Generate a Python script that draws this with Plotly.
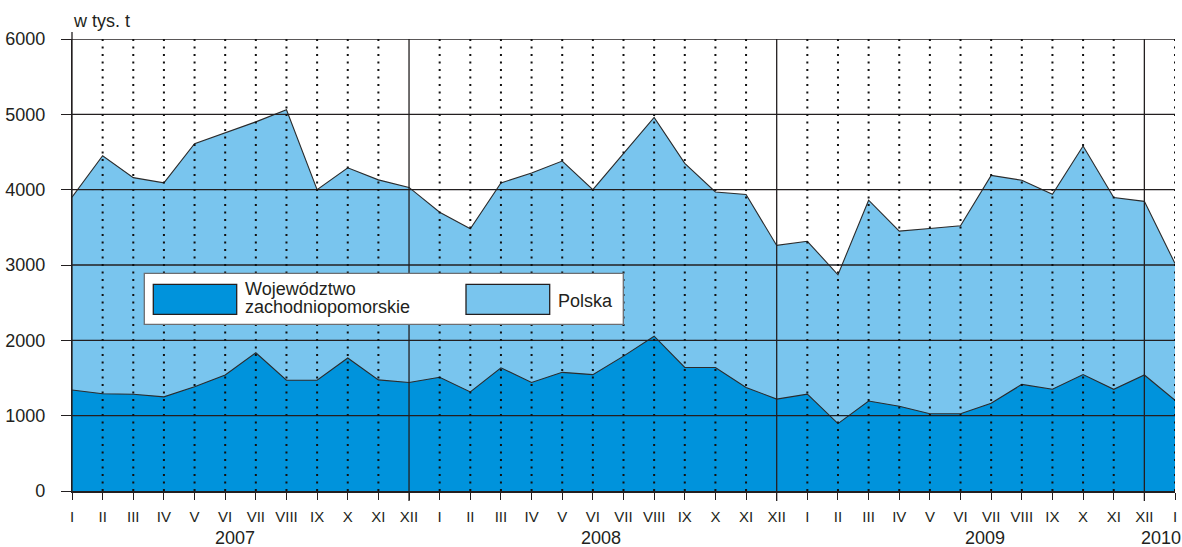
import plotly.graph_objects as go

# ---------------- data ----------------
months = ["I", "II", "III", "IV", "V", "VI", "VII", "VIII", "IX", "X", "XI", "XII"] * 3 + ["I"]
years = ["2007", "2008", "2009", "2010"]
year_centers = [5.32, 17.25, 29.8, 35.55]
december_idx = [11, 23, 35]

polska = [3900, 4450, 4160, 4090, 4610, 4750, 4900, 5060, 4000, 4290, 4130, 4030,
          3700, 3480, 4090, 4220, 4380, 4000, 4480, 4960, 4350, 3970, 3935, 3260,
          3315, 2870, 3860, 3450, 3485, 3520, 4190, 4125, 3940, 4580, 3895, 3845,
          3020]

zachodniopomorskie = [1340, 1290, 1285, 1250, 1385, 1540, 1835, 1470, 1470, 1765, 1475, 1440,
                      1510, 1315, 1635, 1440, 1575, 1545, 1790, 2055, 1640, 1640, 1375, 1220,
                      1285, 895, 1195, 1125, 1025, 1025, 1165, 1415, 1350, 1545, 1350, 1540,
                      1205]

y_ticks = [0, 1000, 2000, 3000, 4000, 5000, 6000]

# ---------------- style ----------------
W, H = 1182, 547
ML, MR, MT, MB = 72, 7, 39, 56
PW, PH = W - ML - MR, H - MT - MB
LIGHT = "#79c5ee"
DARK = "#0093dc"
INK = "#231f20"
FONT = "Liberation Sans, Arial, Helvetica, sans-serif"


def px(xr):
    """window pixel x -> paper x"""
    return (xr - ML) / PW


def py(yr):
    """window pixel y -> paper y"""
    return (MT + PH - yr) / PH


x = list(range(len(months)))

fig = go.Figure()
fig.add_trace(go.Scatter(x=x, y=polska, mode="lines", fill="tozeroy",
                         fillcolor=LIGHT, line=dict(color="#2b2b2b", width=1.1),
                         name="Polska", showlegend=False, hoverinfo="skip"))
fig.add_trace(go.Scatter(x=x, y=zachodniopomorskie, mode="lines", fill="tozeroy",
                         fillcolor=DARK, line=dict(color="#2b2b2b", width=1.1),
                         name="Województwo zachodniopomorskie", showlegend=False,
                         hoverinfo="skip"))

shapes = []
# horizontal grid lines above the areas
for v in y_ticks[1:]:
    shapes.append(dict(type="line", xref="paper", yref="y", x0=0, x1=1, y0=v, y1=v,
                       line=dict(color=INK, width=1.3), layer="above"))
# vertical lines: dotted for months, solid for December
for i in x[1:]:
    if i in december_idx:
        shapes.append(dict(type="line", xref="x", yref="y", x0=i, x1=i, y0=0, y1=6000,
                           line=dict(color=INK, width=1.3), layer="above"))
        shapes.append(dict(type="line", xref="x", yref="paper", x0=i, x1=i, y0=0,
                           y1=-10 / PH, line=dict(color=INK, width=1.3), layer="above"))
    else:
        shapes.append(dict(type="line", xref="x", yref="y", x0=i, x1=i, y0=0, y1=6000,
                           line=dict(color="#111111", width=2, dash="2px,5.5px"),
                           layer="above"))
# y-axis extension above the top grid line
shapes.append(dict(type="line", xref="paper", yref="paper", x0=0, x1=0, y0=0,
                   y1=1 + 7 / PH, line=dict(color=INK, width=1.3), layer="above"))

# legend box (drawn manually)
shapes.append(dict(type="rect", xref="paper", yref="paper",
                   x0=px(144.3), x1=px(623.3), y0=py(324.3), y1=py(273.3),
                   fillcolor="white", line=dict(color="#6d6e71", width=1.3), layer="above"))
shapes.append(dict(type="rect", xref="paper", yref="paper",
                   x0=px(153.3), x1=px(236.7), y0=py(314.3), y1=py(284.3),
                   fillcolor=DARK, line=dict(color=INK, width=1.3), layer="above"))
shapes.append(dict(type="rect", xref="paper", yref="paper",
                   x0=px(466), x1=px(549.7), y0=py(314.3), y1=py(284.3),
                   fillcolor=LIGHT, line=dict(color=INK, width=1.3), layer="above"))

annotations = []
annotations.append(dict(text="Województwo", xref="paper", yref="paper", x=px(243),
                        y=py(288.5), xanchor="left", yanchor="middle", showarrow=False,
                        font=dict(size=18, color=INK, family=FONT)))
annotations.append(dict(text="zachodniopomorskie", xref="paper", yref="paper", x=px(243),
                        y=py(307), xanchor="left", yanchor="middle", showarrow=False,
                        font=dict(size=18, color=INK, family=FONT)))
annotations.append(dict(text="Polska", xref="paper", yref="paper", x=px(556),
                        y=py(301.5), xanchor="left", yanchor="middle", showarrow=False,
                        font=dict(size=18, color=INK, family=FONT)))
annotations.append(dict(text="w tys. t", xref="paper", yref="paper", x=px(71),
                        y=py(20.5), xanchor="left", yanchor="middle", showarrow=False,
                        font=dict(size=18, color=INK, family=FONT)))
for yr, c in zip(years, year_centers):
    annotations.append(dict(text=yr, xref="x", yref="paper", x=c, y=0, yshift=-47,
                            xanchor="center", yanchor="middle", showarrow=False,
                            font=dict(size=18, color=INK, family=FONT)))

fig.update_layout(
    width=W, height=H,
    margin=dict(l=ML, r=MR, t=MT, b=MB, pad=0, autoexpand=False),
    paper_bgcolor="white", plot_bgcolor="white",
    font=dict(family=FONT, color=INK),
    shapes=shapes, annotations=annotations,
    showlegend=False,
    xaxis=dict(range=[0, 36], tickvals=x, ticktext=months, showgrid=False,
               zeroline=False, showline=True, linecolor=INK, linewidth=1.5,
               ticks="outside", ticklen=7, tickwidth=1.3, tickcolor=INK,
               tickfont=dict(size=15, color=INK, family=FONT), tickangle=0,
               ticklabelstandoff=4, automargin=False, layer="above traces"),
    yaxis=dict(range=[0, 6000], tickvals=y_ticks, showgrid=False, zeroline=False,
               showline=True, linecolor=INK, linewidth=1.3,
               ticks="outside", ticklen=10, tickwidth=1.3, tickcolor=INK,
               tickfont=dict(size=18, color=INK, family=FONT),
               ticklabelstandoff=12, automargin=False, layer="above traces"),
)

# remove the browser's default 8px page margin so the figure fills the window
fig.write_html("out.html", config={"displayModeBar": False},
               post_script="document.body.style.margin='0';")
